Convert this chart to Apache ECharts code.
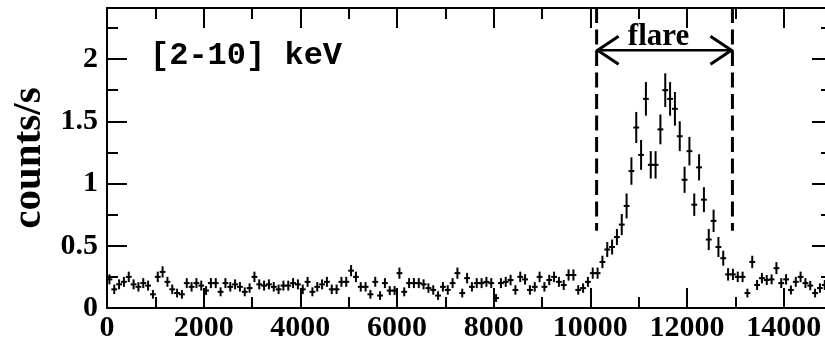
<!DOCTYPE html>
<html>
<head>
<meta charset="utf-8">
<script src="https://cdn.jsdelivr.net/npm/echarts@6/dist/echarts.min.js"></script>
<style>
  html, body { margin: 0; padding: 0; background: #fff; }
  #chart { width: 825px; height: 345px; }
</style>
</head>
<body>
<div id="chart"></div>
<script>
// light curve, 100 s bins, [2-10] keV
const binWidth = 100;
const rates = [
  0.23, 0.15, 0.19, 0.21, 0.25, 0.19, 0.17, 0.20, 0.18, 0.11,
  0.25, 0.29, 0.21, 0.15, 0.12, 0.11, 0.20, 0.17, 0.20, 0.18,
  0.14, 0.20, 0.20, 0.13, 0.20, 0.17, 0.19, 0.17, 0.13, 0.16,
  0.25, 0.19, 0.18, 0.19, 0.17, 0.15, 0.18, 0.18, 0.20, 0.19,
  0.15, 0.21, 0.13, 0.17, 0.19, 0.21, 0.15, 0.15, 0.21, 0.21,
  0.30, 0.25, 0.17, 0.17, 0.11, 0.21, 0.10, 0.20, 0.14, 0.14,
  0.28, 0.13, 0.20, 0.20, 0.20, 0.19, 0.16, 0.145, 0.10, 0.17,
  0.145, 0.20, 0.28, 0.12, 0.24, 0.17, 0.20, 0.20, 0.21, 0.20,
  0.08, 0.20, 0.21, 0.225, 0.145, 0.25, 0.23, 0.145, 0.17, 0.25,
  0.17, 0.225, 0.25, 0.21, 0.185, 0.265, 0.265, 0.145, 0.16, 0.21,
  0.28, 0.28, 0.37, 0.47, 0.49, 0.57, 0.67, 0.82, 1.10, 1.45,
  1.23, 1.68, 1.15, 1.15, 1.435, 1.75, 1.68, 1.60, 1.38, 1.03,
  1.26, 0.83, 1.13, 0.87, 0.55, 0.70, 0.49, 0.40, 0.27, 0.27,
  0.25, 0.25, 0.12, 0.37, 0.185, 0.24, 0.225, 0.23, 0.32, 0.20,
  0.23, 0.145, 0.21, 0.25, 0.20, 0.18, 0.12, 0.16, 0.185, 0.20
];
const rateErrors = [
  0.040, 0.038, 0.040, 0.040, 0.042, 0.040, 0.038, 0.040, 0.040, 0.035,
  0.042, 0.045, 0.040, 0.038, 0.035, 0.035, 0.040, 0.038, 0.040, 0.040,
  0.036, 0.040, 0.040, 0.036, 0.040, 0.038, 0.040, 0.038, 0.036, 0.038,
  0.042, 0.040, 0.040, 0.040, 0.038, 0.038, 0.040, 0.040, 0.040, 0.040,
  0.038, 0.040, 0.036, 0.038, 0.040, 0.040, 0.038, 0.038, 0.040, 0.040,
  0.045, 0.042, 0.038, 0.038, 0.035, 0.040, 0.035, 0.040, 0.036, 0.036,
  0.045, 0.036, 0.040, 0.040, 0.040, 0.040, 0.038, 0.038, 0.035, 0.038,
  0.038, 0.040, 0.045, 0.035, 0.042, 0.038, 0.040, 0.040, 0.040, 0.040,
  0.032, 0.040, 0.040, 0.042, 0.038, 0.042, 0.042, 0.038, 0.038, 0.042,
  0.038, 0.042, 0.042, 0.040, 0.040, 0.045, 0.045, 0.038, 0.038, 0.040,
  0.045, 0.045, 0.050, 0.060, 0.060, 0.065, 0.085, 0.100, 0.110, 0.125,
  0.120, 0.135, 0.110, 0.110, 0.120, 0.135, 0.135, 0.135, 0.120, 0.105,
  0.115, 0.090, 0.105, 0.100, 0.085, 0.090, 0.080, 0.060, 0.050, 0.045,
  0.042, 0.042, 0.035, 0.050, 0.040, 0.042, 0.040, 0.040, 0.048, 0.040,
  0.042, 0.036, 0.040, 0.042, 0.040, 0.038, 0.035, 0.038, 0.040, 0.040
];
const flareWindow = [10130, 12940];
const flareLabel = 'flare';
const bandLabel = '[2-10] keV';
const yName = 'counts/s';

const X_MAX = 15000;
const Y_MAX = 2.41;

const binCenters = rates.map((_, i) => (i + 0.5) * binWidth);
const points = rates.map((v, i) => [binCenters[i], v, rateErrors[i]]);

const ink = '#000';
const labelFont = { fontFamily: 'Liberation Serif', fontWeight: 'bold', fontSize: 30, color: ink };

function frameAxis(opts) {
  return Object.assign({
    type: 'value',
    gridIndex: 0,
    axisLine: { show: opts.line, onZero: false, lineStyle: { color: ink, width: 2 } },
    axisTick: { show: true, inside: true, length: opts.tick, lineStyle: { color: ink, width: 2 } },
    axisLabel: { show: false },
    splitLine: { show: false },
    z: opts.line ? 5 : 4
  }, opts.extra);
}

const plain = v => String(v);

const xAxes = [
  frameAxis({ line: true, tick: 20, extra: { position: 'bottom', min: 0, max: X_MAX, interval: 2000,
    axisLabel: Object.assign({ show: true, margin: 5, showMaxLabel: false, formatter: plain }, labelFont) } }),
  frameAxis({ line: false, tick: 11, extra: { position: 'bottom', min: 0, max: X_MAX, interval: 1000 } }),
  frameAxis({ line: true, tick: 20, extra: { position: 'top', min: 0, max: X_MAX, interval: 2000 } }),
  frameAxis({ line: false, tick: 11, extra: { position: 'top', min: 0, max: X_MAX, interval: 1000 } })
];

const yAxes = [
  frameAxis({ line: true, tick: 20, extra: { position: 'left', min: 0, max: Y_MAX, interval: 0.5,
    axisLabel: Object.assign({ show: true, margin: 9, showMaxLabel: false, formatter: plain }, labelFont),
    name: yName, nameLocation: 'middle', nameGap: 57,
    nameTextStyle: { fontFamily: 'Liberation Serif', fontWeight: 'bold', fontSize: 41, color: ink } } }),
  frameAxis({ line: false, tick: 11, extra: { position: 'left', min: 0, max: Y_MAX, interval: 0.25 } }),
  frameAxis({ line: true, tick: 20, extra: { position: 'right', min: 0, max: Y_MAX, interval: 0.5 } }),
  frameAxis({ line: false, tick: 11, extra: { position: 'right', min: 0, max: Y_MAX, interval: 0.25 } })
];

function renderErrorBar(params, api) {
  const x = api.value(0), y = api.value(1), e = api.value(2);
  const c = api.coord([x, y]);
  const hi = api.coord([x, y + e]);
  const lo = api.coord([x, y - e]);
  const l = api.coord([x - binWidth / 2, y]);
  const r = api.coord([x + binWidth / 2, y]);
  const st = { stroke: ink, lineWidth: 2 };
  return {
    type: 'group',
    children: [
      { type: 'line', shape: { x1: c[0], y1: hi[1], x2: c[0], y2: lo[1] }, style: st },
      { type: 'line', shape: { x1: l[0] - 0.5, y1: c[1], x2: r[0] + 0.5, y2: c[1] }, style: st }
    ]
  };
}

// dashed window marks + double arrow with label
const dashFloor = 0.62;
const arrowLevel = 2.07;
function renderFlare(params, api) {
  const a = api.value(0), b = api.value(1);
  const topL = api.coord([a, Y_MAX]), botL = api.coord([a, dashFloor]);
  const topR = api.coord([b, Y_MAX]), botR = api.coord([b, dashFloor]);
  const L = api.coord([a, arrowLevel]), R = api.coord([b, arrowLevel]);
  const dash = { stroke: ink, lineWidth: 3, lineDash: [15, 6.5] };
  const solid = { stroke: ink, lineWidth: 2.5, fill: null };
  return {
    type: 'group',
    children: [
      { type: 'line', shape: { x1: topL[0], y1: topL[1], x2: botL[0], y2: botL[1] }, style: dash },
      { type: 'line', shape: { x1: topR[0], y1: topR[1], x2: botR[0], y2: botR[1] }, style: dash },
      { type: 'line', shape: { x1: L[0], y1: L[1], x2: R[0], y2: R[1] }, style: solid },
      { type: 'polyline', shape: { points: [[L[0] + 22, L[1] - 14], [L[0] + 1, L[1]], [L[0] + 22, L[1] + 14]] },
        style: { stroke: ink, lineWidth: 3, fill: null } },
      { type: 'polyline', shape: { points: [[R[0] - 22, R[1] - 14], [R[0] - 1, R[1]], [R[0] - 22, R[1] + 14]] },
        style: { stroke: ink, lineWidth: 3, fill: null } },
      { type: 'text', x: (L[0] + R[0]) / 2 - 6, y: L[1] - 13,
        style: { text: flareLabel, fontFamily: 'Liberation Serif', fontWeight: 'bold', fontSize: 31,
                 fill: ink, align: 'center', verticalAlign: 'middle' } }
    ]
  };
}

const chart = echarts.init(document.getElementById('chart'), null, { renderer: 'canvas' });
chart.setOption({
  animation: false,
  backgroundColor: '#fff',
  grid: { left: 107, right: -7, top: 8, bottom: 37, containLabel: false, outerBoundsMode: 'none' },
  xAxis: xAxes,
  yAxis: yAxes,
  graphic: [{
    type: 'text', left: 150, top: 40,
    style: { text: bandLabel, fontFamily: 'Liberation Mono', fontWeight: 'bold', fontSize: 32, fill: ink }
  }],
  series: [
    {
      name: 'rate',
      type: 'custom',
      xAxisIndex: 0,
      yAxisIndex: 0,
      renderItem: renderErrorBar,
      encode: { x: 0, y: 1 },
      data: points,
      clip: true,
      z: 3
    },
    {
      name: 'flare',
      type: 'custom',
      xAxisIndex: 0,
      yAxisIndex: 0,
      renderItem: renderFlare,
      encode: { x: [0, 1] },
      data: [flareWindow],
      clip: false,
      z: 6
    }
  ]
});
</script>
</body>
</html>
